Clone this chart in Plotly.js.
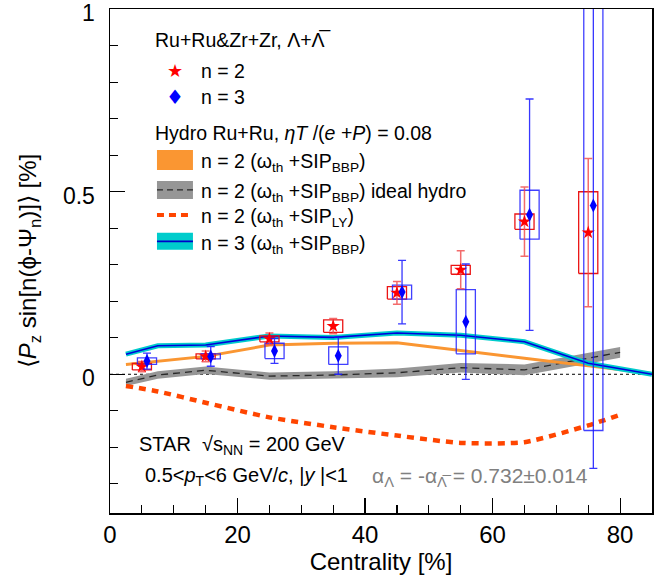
<!DOCTYPE html>
<html>
<head>
<meta charset="utf-8">
<script src="https://cdn.plot.ly/plotly-3.0.1.min.js"></script>
<style>html,body{margin:0;padding:0;background:#fff;}#chart{width:672px;height:582px;}</style>
</head>
<body>
<div id="chart"></div>
<script>
// ---- data ----
const xN2 = [5, 15, 25, 35, 45, 55, 65, 75];
const xN3 = [5.8, 15.8, 25.8, 35.8, 45.8, 55.8, 65.8, 75.8];
const n2Val  = [0.021, 0.049, 0.097, 0.132, 0.223, 0.286, 0.418, 0.388];
const n2Stat = [0.014, 0.015, 0.016, 0.021, 0.031, 0.052, 0.095, 0.203];
const n2Sys  = [0.009, 0.007, 0.008, 0.017, 0.017, 0.012, 0.021, 0.112];
const n3Val  = [0.036, 0.049, 0.064, 0.051, 0.225, 0.144, 0.437, 0.462];
const n3Stat = [0.022, 0.027, 0.034, 0.051, 0.087, 0.158, 0.317, 0.72];
const n3Sys  = [0.009, 0.007, 0.021, 0.024, 0.019, 0.088, 0.067, 0.616];

const hydroX = [2.5, 7.5, 15, 25, 35, 45, 55, 65, 75, 85];
const n2BBP  = [0.027, 0.036, 0.049, 0.080, 0.085, 0.086, 0.066, 0.044, 0.023, 0.002];
const n3BBP  = [0.055, 0.078, 0.080, 0.105, 0.101, 0.113, 0.107, 0.089, 0.030, 0.000];

const idealX   = [2.5, 7.5, 15, 25, 35, 45, 55, 65, 80];
const n2Ideal  = [-0.022, -0.002, 0.011, -0.005, -0.002, 0.004, 0.018, 0.012, 0.060];
const n2IdealE = [0.010, 0.010, 0.010, 0.010, 0.010, 0.012, 0.013, 0.015, 0.015];

const lyX  = [2.5, 7.5, 15, 25, 35, 45, 55, 65, 75, 80];
const n2LY = [-0.032, -0.047, -0.078, -0.118, -0.145, -0.168, -0.188, -0.186, -0.140, -0.111];

const xTicks = [0, 20, 40, 60, 80];
const yTicks = [0, 0.5, 1];
const yTickText = ['0', '0.5', '1'];

// ---- styles ----
const FONT = 'Liberation Sans, Arial, Helvetica, sans-serif';
const RED = 'rgb(255,0,0)';
const BLUE = 'rgb(0,0,255)';
const ORANGE = 'rgb(250,150,50)';
const GRAY = 'rgb(150,150,150)';
const CYAN = 'rgb(0,204,204)';
const LYCOL = 'rgb(255,69,0)';
const BOXHALF = 1.5;
const TXT = 19.5;
const AXF = 24;

function boxPath(xs, ys, es) {
  const bx = [], by = [];
  xs.forEach((x, i) => {
    const y0 = ys[i] - es[i], y1 = ys[i] + es[i];
    bx.push(x - BOXHALF, x + BOXHALF, x + BOXHALF, x - BOXHALF, x - BOXHALF, null);
    by.push(y0, y0, y1, y1, y0, null);
  });
  return {x: bx, y: by};
}

const idealUp = n2Ideal.map((v, i) => v + n2IdealE[i]);
const idealLo = n2Ideal.map((v, i) => v - n2IdealE[i]);
const bandX = idealX.concat(idealX.slice().reverse());
const bandY = idealUp.concat(idealLo.slice().reverse());

const redBox = boxPath(xN2, n2Val, n2Sys);
const blueBox = boxPath(xN3, n3Val, n3Sys);

const traces = [
  {x: bandX, y: bandY, type: 'scatter', mode: 'lines', fill: 'toself',
   fillcolor: GRAY, line: {width: 0}, hoverinfo: 'skip'},
  {x: idealX, y: n2Ideal, type: 'scatter', mode: 'lines',
   line: {color: 'rgb(40,40,40)', width: 1.3, dash: '7px,5px'}},
  {x: hydroX, y: n2BBP, type: 'scatter', mode: 'lines',
   line: {color: ORANGE, width: 3}},
  {x: hydroX, y: n3BBP, type: 'scatter', mode: 'lines',
   line: {color: CYAN, width: 5}},
  {x: hydroX, y: n3BBP, type: 'scatter', mode: 'lines',
   line: {color: 'rgb(0,0,220)', width: 1.6}},
  {x: lyX, y: n2LY, type: 'scatter', mode: 'lines',
   line: {color: LYCOL, width: 4.5, dash: '7px,6px', shape: 'spline', smoothing: 0.6}},
  {x: redBox.x, y: redBox.y, type: 'scatter', mode: 'lines',
   line: {color: 'rgb(235,20,20)', width: 1.3}, connectgaps: false},
  {x: blueBox.x, y: blueBox.y, type: 'scatter', mode: 'lines',
   line: {color: 'rgba(30,30,255,0.85)', width: 1.3}, connectgaps: false},
  {x: xN2, y: n2Val, type: 'scatter', mode: 'markers',
   marker: {symbol: 'star', size: 10, color: RED, line: {width: 0}},
   error_y: {type: 'data', array: n2Stat, visible: true, color: 'rgba(240,70,70,0.8)', thickness: 1.5, width: 4}},
  {x: xN3, y: n3Val, type: 'scatter', mode: 'markers',
   marker: {symbol: 'diamond-tall', size: 10, color: BLUE, line: {width: 0}},
   error_y: {type: 'data', array: n3Stat, visible: true, color: 'rgba(20,20,255,0.85)', thickness: 1.3, width: 4}}
];

// pixel -> paper helpers for the in-frame legend and labels
const L = 110, R = 652.3, T = 9, B = 513.3;
const px = x => (x - L) / (R - L);
const py = y => (B - y) / (B - T);

function ann(text, x, y, opts) {
  return Object.assign({text: text, x: px(x), y: py(y), xref: 'paper', yref: 'paper',
    xanchor: 'left', yanchor: 'middle', showarrow: false,
    font: {family: FONT, size: TXT, color: 'black'}}, opts || {});
}

const annotations = [
  ann('Ru+Ru&Zr+Zr, Λ+Λ\u0305', 153, 40),
  ann('★', 175, 71, {xanchor: 'center', font: {family: 'DejaVu Sans', size: 18, color: RED}}),
  ann('n = 2', 199, 71),
  ann('♦', 175, 97, {xanchor: 'center', font: {family: 'DejaVu Sans', size: 20, color: BLUE}}),
  ann('n = 3', 199, 97),
  ann('Hydro Ru+Ru, <i>ηT</i> /(<i>e</i> +<i>P</i>) = 0.08', 153, 133),
  ann('n = 2 (ω<sub>th</sub> +SIP<sub>BBP</sub>)', 199, 163),
  ann('n = 2 (ω<sub>th</sub> +SIP<sub>BBP</sub>) ideal hydro', 199, 193),
  ann('n = 2 (ω<sub>th</sub> +SIP<sub>LY</sub>)', 199, 218),
  ann('n = 3 (ω<sub>th</sub> +SIP<sub>BBP</sub>)', 199, 245),
  ann('STAR  √s<sub>NN</sub> = 200 GeV', 137, 446, {font: {family: FONT, size: 20, color: 'black'}}),
  ann('0.5&lt;<i>p</i><sub>T</sub>&lt;6 GeV/<i>c</i>, |<i>y</i> |&lt;1', 143, 477, {font: {family: FONT, size: 20, color: 'black'}}),
  ann('α<sub>Λ</sub> = -α<sub>Λ\u0305</sub> = 0.732±0.014', 370, 477, {font: {family: FONT, size: 21, color: 'rgb(128,128,128)'}})
];

const shapes = [
  {type: 'line', xref: 'x', yref: 'y', x0: 0, x1: 85, y0: 0, y1: 0,
   line: {color: 'black', width: 1, dash: 'dot'}, layer: 'below'},
  {type: 'rect', xref: 'paper', yref: 'paper', x0: px(157), x1: px(193), y0: py(170), y1: py(150),
   fillcolor: ORANGE, line: {width: 0}},
  {type: 'rect', xref: 'paper', yref: 'paper', x0: px(157), x1: px(193), y0: py(199), y1: py(181),
   fillcolor: GRAY, line: {width: 0}},
  {type: 'line', xref: 'paper', yref: 'paper', x0: px(157), x1: px(193), y0: py(190), y1: py(190),
   line: {color: 'rgb(40,40,40)', width: 1.2, dash: '6px,4px'}},
  {type: 'line', xref: 'paper', yref: 'paper', x0: px(157), x1: px(193), y0: py(215), y1: py(215),
   line: {color: LYCOL, width: 4, dash: '7px,5px'}},
  {type: 'rect', xref: 'paper', yref: 'paper', x0: px(157), x1: px(193), y0: py(250), y1: py(233),
   fillcolor: CYAN, line: {width: 0}},
  {type: 'line', xref: 'paper', yref: 'paper', x0: px(157), x1: px(193), y0: py(241.5), y1: py(241.5),
   line: {color: 'rgb(0,0,200)', width: 1.6}}
];

const layout = {
  width: 672, height: 582,
  margin: {l: 110, r: 19.7, t: 9, b: 68.7, pad: 0},
  paper_bgcolor: 'white', plot_bgcolor: 'white',
  showlegend: false,
  font: {family: FONT, size: AXF, color: 'black'},
  xaxis: {
    range: [0, 85], tickvals: xTicks, ticks: 'inside', ticklen: 15, tickwidth: 1.2, tickcolor: 'black',
    minor: {dtick: 5, tick0: 0, ticks: 'inside', ticklen: 8, tickwidth: 1.2, tickcolor: 'black'},
    showline: true, linecolor: 'black', linewidth: 1.5, mirror: true,
    showgrid: false, zeroline: false, ticklabelstandoff: 0, ticklabeloverflow: 'allow',
    tickfont: {family: FONT, size: AXF, color: 'black'},
    title: {text: 'Centrality [%]', font: {family: FONT, size: AXF, color: 'black'}, standoff: 2}
  },
  yaxis: {
    range: [-0.38, 1.0005], tickvals: yTicks, ticktext: yTickText, ticks: 'inside', ticklen: 15, tickwidth: 1.2, tickcolor: 'black',
    minor: {dtick: 0.1, tick0: 0, ticks: 'inside', ticklen: 8, tickwidth: 1.2, tickcolor: 'black'},
    showline: true, linecolor: 'black', linewidth: 1.5, mirror: true,
    showgrid: false, zeroline: false, ticklabelstandoff: 9, ticklabeloverflow: 'allow', ticklabelshift: 4,
    tickfont: {family: FONT, size: 23, color: 'black'},
    title: {text: '⟨<i>P</i><sub>z</sub> sin[n(ϕ-Ψ<sub>n</sub>)]⟩ [%]', font: {family: FONT, size: AXF, color: 'black'}, standoff: 19}
  },
  annotations: annotations,
  shapes: shapes
};

Plotly.newPlot('chart', traces, layout, {staticPlot: true, displayModeBar: false});
</script>
</body>
</html>
